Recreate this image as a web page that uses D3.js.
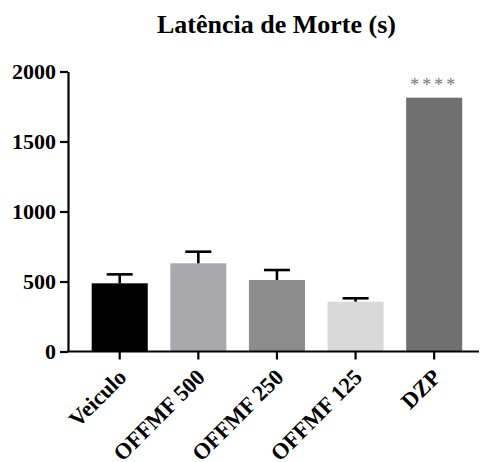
<!DOCTYPE html>
<html>
<head>
<meta charset="utf-8">
<script src="https://cdn.jsdelivr.net/npm/d3@7"></script>
<style>
  html, body { margin: 0; padding: 0; background: #fff; }
</style>
</head>
<body>
<svg id="chart" width="482" height="462"></svg>
<script>
const categories = ["Veiculo", "OFFMF 500", "OFFMF 250", "OFFMF 125", "DZP"];
const means = [487, 630, 511, 356, 1813];
const errors = [64, 83, 71, 24, 0];
const colors = ["#000000", "#a9a9ac", "#8c8c8c", "#d9d9d9", "#707070"];
const yTicks = [0, 500, 1000, 1500, 2000];
const significance = ["", "", "", "", "****"];
const title = "Latência de Morte (s)";

const FONT = "Liberation Serif, Tinos, DejaVu Serif, serif";

const svg = d3.select("#chart");

const y = d3.scaleLinear().domain([0, 2000]).range([351.5, 71.5]);
const x = d3.scaleBand().domain(categories).range([80.4, 473.5])
  .paddingInner(0.287).paddingOuter(0.1435);

const axisX0 = 68;

// title
svg.append("text")
  .attr("x", 276.5).attr("y", 33)
  .attr("text-anchor", "middle")
  .attr("font-family", FONT)
  .attr("font-weight", "bold")
  .attr("font-size", 26)
  .attr("fill", "#000")
  .text(title);

const data = categories.map((c, i) => ({ c, m: means[i], e: errors[i], col: colors[i], s: significance[i] }));

// bars
svg.append("g").selectAll("rect").data(data).join("rect")
  .attr("x", d => x(d.c))
  .attr("y", d => y(d.m))
  .attr("width", x.bandwidth())
  .attr("height", d => y(0) - y(d.m))
  .attr("fill", d => d.col);

// error bars (upper only)
const eg = svg.append("g").attr("stroke", "#000").attr("stroke-width", 2.6);
data.filter(d => d.e > 0).forEach(d => {
  const cx = x(d.c) + x.bandwidth() / 2;
  eg.append("line").attr("x1", cx).attr("x2", cx).attr("y1", y(d.m)).attr("y2", y(d.m + d.e));
  eg.append("line").attr("x1", cx - 13).attr("x2", cx + 13).attr("y1", y(d.m + d.e)).attr("y2", y(d.m + d.e));
});

// significance
svg.append("g").selectAll("text").data(data.filter(d => d.s)).join("text")
  .attr("x", d => x(d.c) + x.bandwidth() / 2)
  .attr("y", d => y(d.m + d.e) - 7)
  .attr("text-anchor", "middle")
  .attr("font-family", FONT)
  .attr("font-size", 18)
  .attr("fill", "#777")
  .attr("letter-spacing", 3)
  .text(d => d.s);

// y axis
const yAxis = svg.append("g")
  .attr("transform", `translate(${axisX0},0)`)
  .call(d3.axisLeft(y).tickValues(yTicks).tickSize(8).tickSizeOuter(0).tickPadding(4).tickFormat(d3.format("d")));
yAxis.attr("font-family", FONT).attr("font-weight", "bold").attr("font-size", 22);
yAxis.select(".domain").attr("stroke", "#000").attr("stroke-width", 2.2);
yAxis.selectAll(".tick line").attr("stroke", "#000").attr("stroke-width", 2.2);
yAxis.selectAll(".tick text").attr("fill", "#000");

// x axis
const xAxis = svg.append("g")
  .attr("transform", `translate(0,${y(0)})`)
  .call(d3.axisBottom(x).tickSize(8).tickSizeOuter(0).tickPadding(4));
xAxis.attr("font-family", FONT).attr("font-weight", "bold").attr("font-size", 22.5);
xAxis.select(".domain").attr("d", `M${axisX0 - 1},0H479`).attr("stroke", "#000").attr("stroke-width", 2.2);
xAxis.selectAll(".tick line").attr("stroke", "#000").attr("stroke-width", 2.2);
xAxis.selectAll(".tick text")
  .attr("fill", "#000")
  .attr("text-anchor", "end")
  .attr("dy", null)
  .attr("y", 0).attr("x", 0)
  .attr("transform", "translate(8,27) rotate(-45)");
</script>
</body>
</html>
